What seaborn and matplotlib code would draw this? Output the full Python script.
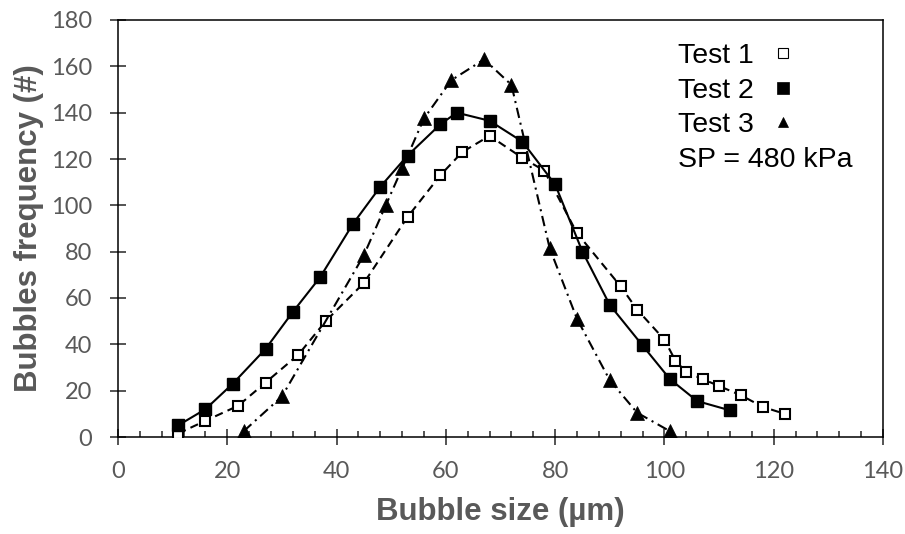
import matplotlib
matplotlib.use("Agg")
import matplotlib.pyplot as plt
import seaborn as sns
import pandas as pd
from matplotlib.ticker import MultipleLocator

# ---- data ----
test1_x = [11, 16, 22, 27, 33, 38, 45, 53, 59, 63, 68, 74, 78, 84, 92, 95, 100, 102, 104, 107, 110, 114, 118, 122]
test1_y = [1.5, 7, 13.5, 23.5, 35.5, 50, 66.5, 95, 113, 123, 130, 120.5, 115, 88, 65, 55, 42, 33, 28, 25, 22, 18, 13, 10]

test2_x = [11, 16, 21, 27, 32, 37, 43, 48, 53, 59, 62, 68, 74, 80, 85, 90, 96, 101, 106, 112]
test2_y = [5, 12, 23, 38, 54, 69, 92, 108, 121.5, 135, 140, 136.5, 127.5, 109, 80, 57, 39.5, 25, 15.5, 11.5]

test3_x = [23, 30, 45, 49, 52, 56, 61, 67, 72, 79, 84, 90, 95, 101]
test3_y = [2.5, 17.5, 78.5, 100, 116, 137.5, 154, 163, 152, 81.5, 51, 24.5, 10.5, 2.5]

legend_labels = ["Test 1", "Test 2", "Test 3"]
note_text = "SP = 480 kPa"
x_label = "Bubble size (\u00b5m)"
y_label = "Bubbles frequency (#)"

sns.set_style("white")
plt.rcParams["lines.scale_dashes"] = False
plt.rcParams["font.family"] = ["Liberation Sans", "DejaVu Sans"]

GRAY = "#595959"
tick_font = ["Liberation Sans Narrow", "Lato", "DejaVu Sans"]

fig = plt.figure(figsize=(9.05, 5.34), dpi=100)
ax = fig.add_axes([118 / 905, 1 - 437 / 534, 765 / 905, 417 / 534])

df1 = pd.DataFrame({"x": test1_x, "y": test1_y})
df2 = pd.DataFrame({"x": test2_x, "y": test2_y})
df3 = pd.DataFrame({"x": test3_x, "y": test3_y})

sns.lineplot(data=df1, x="x", y="y", ax=ax, color="black", lw=1.5,
             marker="s", markersize=7.5, markerfacecolor="white",
             markeredgecolor="black", markeredgewidth=1.5,
             dashes=False, linestyle=(0, (6, 3.8)), sort=False, zorder=3)
sns.lineplot(data=df2, x="x", y="y", ax=ax, color="black", lw=1.5,
             marker="s", markersize=8.5, markerfacecolor="black",
             markeredgecolor="black", markeredgewidth=1.0,
             linestyle="-", sort=False, zorder=4)
sns.lineplot(data=df3, x="x", y="y", ax=ax, color="black", lw=1.5,
             marker="^", markersize=9.5, markerfacecolor="black",
             markeredgecolor="black", markeredgewidth=0.5,
             linestyle=(0, (7.5, 3.5, 1.5, 3.5)), sort=False, zorder=5)

ax.set_xlim(0, 140)
ax.set_ylim(0, 180)
ax.xaxis.set_major_locator(MultipleLocator(20))
ax.xaxis.set_minor_locator(MultipleLocator(4))
ax.yaxis.set_major_locator(MultipleLocator(20))

for s in ax.spines.values():
    s.set_visible(True)
    s.set_color("black")
    s.set_linewidth(1.1)

ax.tick_params(axis="x", which="major", direction="inout", length=11, width=1.1,
               pad=12, labelsize=17, labelcolor=GRAY, bottom=True, top=False)
ax.tick_params(axis="x", which="minor", direction="in", length=4.5, width=1.1,
               bottom=True, top=False)
ax.tick_params(axis="y", which="major", direction="inout", length=11, width=1.1,
               pad=13, labelsize=17, labelcolor=GRAY, left=True, right=False)
for lab in ax.get_xticklabels() + ax.get_yticklabels():
    lab.set_family(tick_font)

ax.set_xlabel(x_label, fontsize=22.5, fontweight="bold", color=GRAY)
ax.set_ylabel(y_label, fontsize=22.5, fontweight="bold", color=GRAY)
ax.xaxis.set_label_coords(0.5, -0.144)
ax.yaxis.set_label_coords(-0.097, 0.5)

# legend-like annotation block
text_x = 0.732
mark_x = 0.869
baselines = [0.896, 0.813, 0.731, 0.648]
centers = [0.920, 0.837, 0.755]
for lab, yb in zip(legend_labels + [note_text], baselines):
    ax.text(text_x, yb, lab, transform=ax.transAxes, fontsize=20.5,
            color="black", ha="left", va="baseline")
ax.plot([mark_x], [centers[0]], transform=ax.transAxes, ls="none", marker="s",
        ms=6.8, mfc="white", mec="black", mew=0.8, clip_on=False)
ax.plot([mark_x], [centers[1]], transform=ax.transAxes, ls="none", marker="s",
        ms=9, mfc="black", mec="black", mew=0.5, clip_on=False)
ax.plot([mark_x], [centers[2]], transform=ax.transAxes, ls="none", marker="^",
        ms=7.5, mfc="black", mec="black", mew=0.5, clip_on=False)

fig.savefig("out.png", dpi=100, facecolor="white")
